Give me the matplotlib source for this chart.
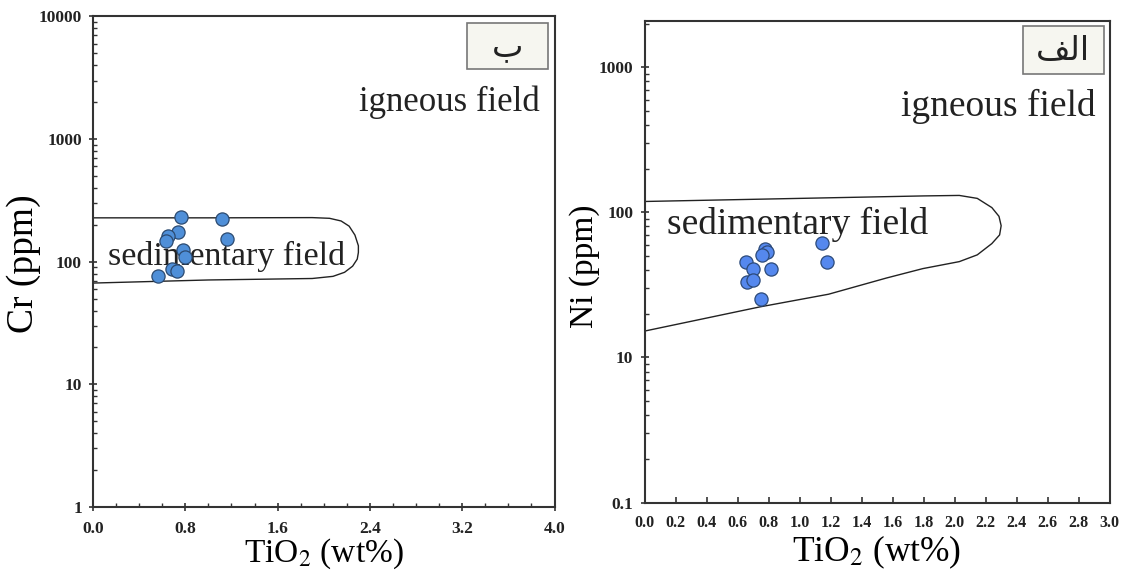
import matplotlib
matplotlib.use("Agg")
import matplotlib.pyplot as plt
from matplotlib.ticker import FixedLocator, FixedFormatter, LogLocator, MultipleLocator, NullFormatter
from matplotlib.patches import Rectangle

plt.rcParams['font.family'] = ['Liberation Serif', 'DejaVu Sans']
plt.rcParams['mathtext.fontset'] = 'stix'

# left panel (ب) : Cr vs TiO2
cr_tio2 = [0.764, 1.119, 0.738, 0.652, 0.636, 1.160, 0.781, 0.795, 0.681, 0.730, 0.559]
cr_ppm = [231, 225, 174, 162, 147, 154, 124, 109, 87, 84, 76]

cr_field_x = [0.0, 1.0, 1.9, 2.05, 2.15, 2.22, 2.27, 2.30, 2.30, 2.29, 2.25, 2.18, 2.08, 1.9, 1.0, 0.0]
cr_field_y = [228, 228, 229, 226, 215, 195, 165, 135, 119, 105, 92, 82, 76, 73, 71, 67]

# right panel (الف) : Ni vs TiO2
ni_tio2 = [1.145, 1.177, 0.777, 0.793, 0.758, 0.656, 0.818, 0.697, 0.662, 0.702, 0.749]
ni_ppm = [62, 45.7, 55.8, 53.6, 51, 45.3, 40.9, 40.6, 32.9, 34.3, 25.4]

ni_field_x = [0.0, 1.0, 1.8, 2.03, 2.146, 2.24, 2.286, 2.30, 2.29, 2.24, 2.146, 2.03,
              1.795, 1.56, 1.187, 0.742, 0.0]
ni_field_y = [119, 125, 130, 131, 125, 108, 94, 81, 70, 61, 51, 45.8,
              41, 35.3, 27.3, 22.3, 15.2]

ni_ticks = [1, 10, 100, 1000]
ni_tick_labels = ['0.1', '10', '100', '1000']
ni_xticks = [0.0, 0.2, 0.4, 0.6, 0.8, 1.0, 1.2, 1.4, 1.6, 1.8, 2.0, 2.2, 2.4, 2.6, 2.8, 3.0]

fig = plt.figure(figsize=(11.25, 5.76), dpi=100)
ax1 = fig.add_axes([0.0827, 0.1198, 0.4102, 0.8516])
ax2 = fig.add_axes([0.5729, 0.1276, 0.4135, 0.8365])

tick_font = {'family': 'Liberation Serif', 'weight': 'bold', 'size': 12.5}


def style_axes(ax):
    for s in ax.spines.values():
        s.set_linewidth(1.5)
        s.set_color('#333333')
    ax.tick_params(which='major', direction='inout', length=6, width=1.2, color='#333333', pad=5)
    ax.tick_params(which='minor', direction='in', length=3, width=1.0, color='#333333')
    for lab in ax.get_xticklabels() + ax.get_yticklabels():
        lab.set_fontproperties(tick_font)
        lab.set_color('#222222')


def field_box(ax, txt, x0, y0, w, h):
    ax.add_patch(Rectangle((x0, y0), w, h, transform=ax.transAxes, facecolor='#f6f6f0',
                           edgecolor='#777777', linewidth=1.2, zorder=5))
    ax.text(x0 + w / 2, y0 + h / 2, txt, transform=ax.transAxes, ha='center', va='center',
            fontsize=24, family='DejaVu Sans', color='#222222', zorder=6)


# ---- left
ax1.set_yscale('log')
ax1.set_xlim(0, 4.0)
ax1.set_ylim(1, 10000)
ax1.plot(cr_field_x, cr_field_y, color='#222222', lw=1.0, zorder=2)
ax1.scatter(cr_tio2, cr_ppm, s=90, color='#4f8fd8', edgecolor='#2c4a70', linewidth=0.9, zorder=4)
ax1.xaxis.set_minor_locator(MultipleLocator(0.2))
ax1.xaxis.set_major_locator(FixedLocator([0.0, 0.8, 1.6, 2.4, 3.2, 4.0]))
ax1.xaxis.set_major_formatter(FixedFormatter(['0.0', '0.8', '1.6', '2.4', '3.2', '4.0']))
ax1.yaxis.set_major_locator(FixedLocator([1, 10, 100, 1000, 10000]))
ax1.yaxis.set_major_formatter(FixedFormatter(['1', '10', '100', '1000', '10000']))
ax1.yaxis.set_minor_locator(LogLocator(base=10, subs=range(2, 10)))
ax1.yaxis.set_minor_formatter(NullFormatter())
style_axes(ax1)
ax1.tick_params(axis='x', which='major', pad=7)
ax1.set_xlabel('TiO$_2$ (wt%)', fontsize=24, labelpad=0)
ax1.set_ylabel('Cr (ppm)', fontsize=27)
ax1.yaxis.label.set_verticalalignment('center')
ax1.yaxis.set_label_coords(-0.150, 0.496)
ax1.text(0.773, 0.826, 'igneous field', transform=ax1.transAxes, ha='center', va='center',
         fontsize=25, color='#222222', zorder=6)
ax1.text(0.289, 0.51, 'sedimentary field', transform=ax1.transAxes, ha='center', va='center',
         fontsize=24.5, color='#222222', zorder=3)
field_box(ax1, '\u0628', 0.810, 0.892, 0.176, 0.095)

# ---- right
ax2.set_yscale('log')
ax2.set_xlim(0, 3.0)
ax2.set_ylim(1, 2100)
ax2.plot(ni_field_x, ni_field_y, color='#222222', lw=1.0, zorder=2)
ax2.scatter(ni_tio2, ni_ppm, s=90, color='#5588ee', edgecolor='#2c4a7a', linewidth=0.9, zorder=4)
ax2.xaxis.set_major_locator(FixedLocator(ni_xticks))
ax2.xaxis.set_major_formatter(FixedFormatter(['%.1f' % v for v in ni_xticks]))
ax2.yaxis.set_major_locator(FixedLocator(ni_ticks))
ax2.yaxis.set_major_formatter(FixedFormatter(ni_tick_labels))
ax2.yaxis.set_minor_locator(LogLocator(base=10, subs=range(2, 10)))
ax2.yaxis.set_minor_formatter(NullFormatter())
style_axes(ax2)
ax2.tick_params(axis='x', which='major', direction='in', length=4, pad=9)
for lab in ax2.get_xticklabels():
    lab.set_fontsize(11.5)
ax2.set_xlabel('TiO$_2$ (wt%)', fontsize=25.5, labelpad=2)
ax2.set_ylabel('Ni (ppm)', fontsize=24)
ax2.yaxis.label.set_verticalalignment('center')
ax2.yaxis.set_label_coords(-0.128, 0.49)
ax2.text(0.761, 0.821, 'igneous field', transform=ax2.transAxes, ha='center', va='center',
         fontsize=27, color='#222222', zorder=6)
ax2.text(0.329, 0.578, 'sedimentary field', transform=ax2.transAxes, ha='center', va='center',
         fontsize=27, color='#222222', zorder=3)
# الف shaped by hand: feh final, lam initial, alef isolated (visual order)
field_box(ax2, '\uFED2\uFEDF\uFE8D', 0.813, 0.889, 0.175, 0.099)

fig.savefig('out.png', dpi=100, facecolor='white')
